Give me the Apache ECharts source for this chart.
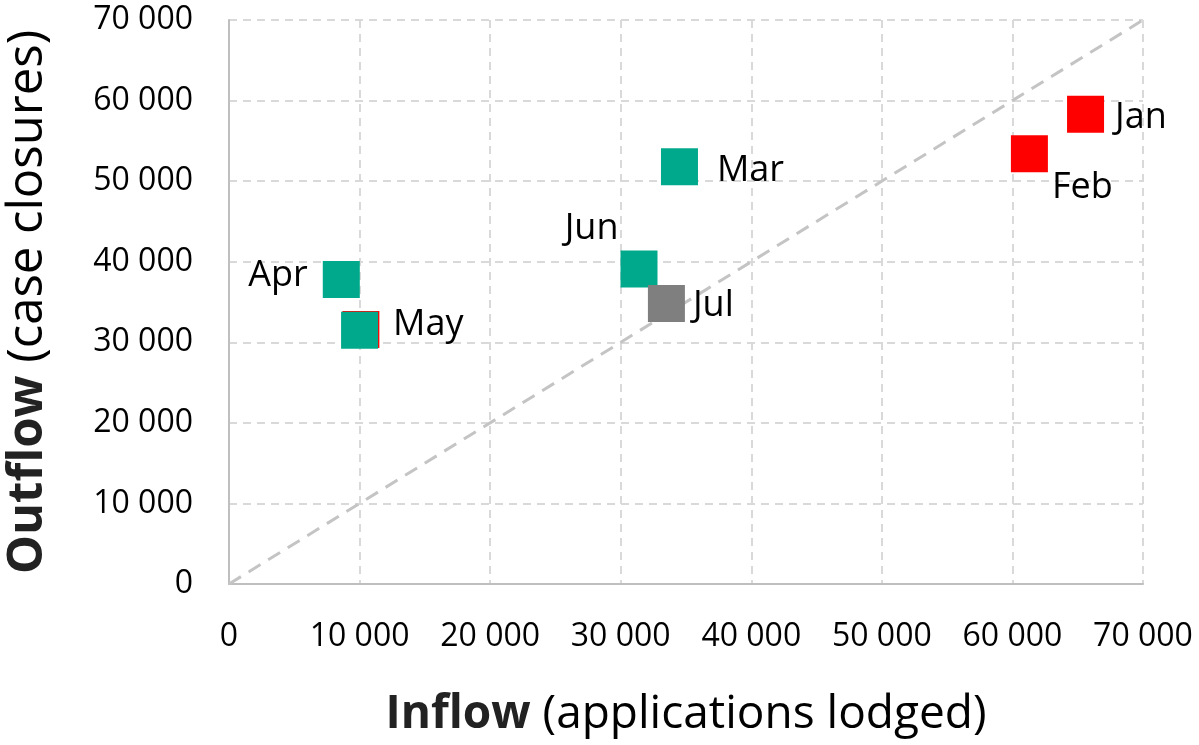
<!DOCTYPE html>
<html>
<head>
<meta charset="utf-8">
<script src="https://cdn.jsdelivr.net/npm/echarts@6/dist/echarts.min.js"></script>
<style>html,body{margin:0;padding:0;background:#fff}#c{width:1199px;height:745px}</style>
</head>
<body>
<div id="c"></div>
<script>
// Data
const months = ['Jan', 'Feb', 'Mar', 'Apr', 'May', 'Jun', 'Jul'];
const inflow  = [65600, 61300, 34500, 8600, 10000, 31400, 33500];
const outflow = [58300, 53400, 51800, 37800, 31500, 39100, 34800];
const group   = ['red', 'red', 'teal', 'teal', 'teal', 'teal', 'gray'];
// hidden red marker behind May
const mayRedInflow = [10100];
const mayRedOutflow = [31600];
const parityLine = [[0, 0], [70000, 70000]];
const axisMin = 0, axisMax = 70000, axisStep = 10000;

const colors = { red: '#FF0000', teal: '#00A98B', gray: '#7F7F7F' };
const labelPos = {
  Jan: { position: 'right', offset: [11, 3] },
  Feb: { position: 'right', offset: [4, 34] },
  Mar: { position: 'right', offset: [19, 4] },
  Apr: { position: 'left', offset: [-15, -4] },
  May: { position: 'right', offset: [15, -5] },
  Jun: { position: 'left', offset: [-2, -40] },
  Jul: { position: 'right', offset: [8, 2] }
};

function fmt(v) { return String(v).replace(/\B(?=(\d{3})+(?!\d))/g, ' '); }

function pts(g) {
  const out = [];
  months.forEach((m, i) => {
    if (group[i] !== g) return;
    out.push({
      name: m,
      value: [inflow[i], outflow[i]],
      label: { show: true, formatter: m, distance: 0, position: labelPos[m].position, offset: labelPos[m].offset }
    });
  });
  return out;
}

const FONT = 'Open Sans';
const markerSize = 37;
const labelStyle = { fontFamily: FONT, fontSize: 36, color: '#000' };

const chart = echarts.init(document.getElementById('c'), null, { renderer: 'canvas' });
const axisCommon = {
  type: 'value', min: axisMin, max: axisMax, interval: axisStep,
  axisLine: { show: true, lineStyle: { color: '#BFBFBF', width: 2 } },
  axisTick: { show: false },
  splitLine: { show: true, lineStyle: { color: '#D9D9D9', width: 2, type: [8, 6] } },
  axisLabel: { fontFamily: FONT, fontSize: 32, color: '#000', formatter: fmt },
  nameLocation: 'middle'
};
function nameStyle(size) {
  return {
    fontFamily: FONT, fontSize: size, color: '#000',
    rich: { b: { fontFamily: FONT, fontSize: size, fontWeight: 'bold', color: '#222' } }
  };
}

chart.setOption({
  animation: false,
  backgroundColor: '#fff',
  grid: { left: 229, top: 20, right: 56, bottom: 161, outerBoundsMode: 'none', containLabel: false },
  xAxis: Object.assign({}, axisCommon, {
    name: '{b|Inflow} (applications lodged)', nameGap: 108,
    nameTextStyle: nameStyle(46),
    axisLabel: Object.assign({}, axisCommon.axisLabel, { margin: 37 })
  }),
  yAxis: Object.assign({}, axisCommon, {
    name: '{b|Outflow} (case closures)', nameGap: 176,
    nameTextStyle: nameStyle(49),
    axisLabel: Object.assign({}, axisCommon.axisLabel, { margin: 36 })
  }),
  series: [
    {
      type: 'line', data: parityLine, symbol: 'none', silent: true, z: 1,
      lineStyle: { color: '#C4C4C4', width: 3, type: [14, 9] }
    },
    {
      type: 'scatter', symbol: 'rect', symbolSize: markerSize, z: 2,
      itemStyle: { color: colors.red, opacity: 1 },
      data: mayRedInflow.map((x, i) => [x, mayRedOutflow[i]])
    },
    {
      type: 'scatter', symbol: 'rect', symbolSize: markerSize, z: 3,
      itemStyle: { color: colors.red, opacity: 1 }, label: labelStyle, data: pts('red')
    },
    {
      type: 'scatter', symbol: 'rect', symbolSize: markerSize, z: 4,
      itemStyle: { color: colors.teal, opacity: 1 }, label: labelStyle, data: pts('teal')
    },
    {
      type: 'scatter', symbol: 'rect', symbolSize: markerSize, z: 5,
      itemStyle: { color: colors.gray, opacity: 1 }, label: labelStyle, data: pts('gray')
    }
  ]
});
</script>
</body>
</html>
